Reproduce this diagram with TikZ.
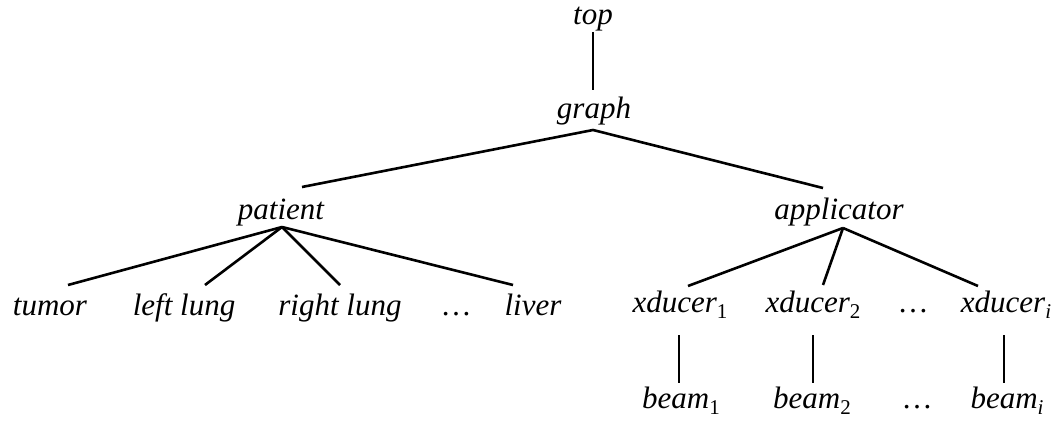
\documentclass[tikz,border=0pt]{standalone}
\usepackage{fontspec}
\setmainfont{Liberation Serif}
\newcommand\lsub[1]{\raisebox{-0.2em}{\fontsize{21}{21}\selectfont #1}}
\begin{document}
\begin{tikzpicture}[x=1pt,y=-1pt,
  lbl/.style={font=\fontsize{31}{36}\selectfont\itshape, inner sep=0pt, anchor=base},
  edge/.style={line width=2.6pt}]
\useasboundingbox (0,0) rectangle (1056,425);
% nodes
\node[lbl] (top) at (593,25) {top};
\node[lbl] (graph) at (594,118) {graph};
\node[lbl] (patient) at (281,219) {patient};
\node[lbl] (applicator) at (839,219) {applicator};
\node[lbl] (tumor) at (50,315) {tumor};
\node[lbl] (leftlung) at (184,315) {left lung};
\node[lbl] (rightlung) at (340,315) {right lung};
\node[lbl] (dotsA) at (456,315) {\upshape\dots};
\node[lbl] (liver) at (533,315) {liver};
\node[lbl] (x1) at (680,312) {xducer\lsub{\upshape 1}};
\node[lbl] (x2) at (813,312) {xducer\lsub{\upshape 2}};
\node[lbl] (dotsB) at (913,312) {\upshape\dots};
\node[lbl] (xi) at (1006,312) {xducer\lsub{i}};
\node[lbl] (b1) at (681,408) {beam\lsub{\upshape 1}};
\node[lbl] (b2) at (812,408) {beam\lsub{\upshape 2}};
\node[lbl] (dotsC) at (917,408) {\upshape\dots};
\node[lbl] (bi) at (1007,408) {beam\lsub{i}};
% connector end points
\coordinate (topB) at (593,32);
\coordinate (graphT) at (593,90);
\coordinate (graphJ) at (593,130);
\coordinate (patientT) at (302,187);
\coordinate (applicatorT) at (823,188);
\coordinate (patientJ) at (282,227);
\coordinate (applicatorJ) at (843,228);
\coordinate (tumorT) at (68,285);
\coordinate (leftlungT) at (205,285);
\coordinate (rightlungT) at (340,285);
\coordinate (liverT) at (513,285);
\coordinate (x1T) at (688,286);
\coordinate (x2T) at (823,285);
\coordinate (xiT) at (978,286);
\coordinate (x1B) at (679,335);
\coordinate (b1T) at (679,383);
\coordinate (x2B) at (813,335);
\coordinate (b2T) at (813,383);
\coordinate (xiB) at (1004,335);
\coordinate (biT) at (1004,383);
% connectors
\draw[edge] (topB) -- (graphT);
\draw[edge] (patientT) -- (graphJ) -- (applicatorT);
\draw[edge] (patientJ) -- (tumorT);
\draw[edge] (patientJ) -- (leftlungT);
\draw[edge] (patientJ) -- (rightlungT);
\draw[edge] (patientJ) -- (liverT);
\draw[edge] (applicatorJ) -- (x1T);
\draw[edge] (applicatorJ) -- (x2T);
\draw[edge] (applicatorJ) -- (xiT);
\draw[edge] (x1B) -- (b1T);
\draw[edge] (x2B) -- (b2T);
\draw[edge] (xiB) -- (biT);
\end{tikzpicture}
\end{document}
